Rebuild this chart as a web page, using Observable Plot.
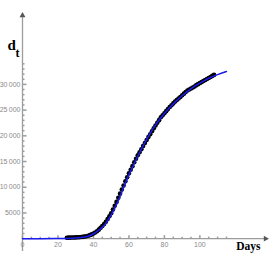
<!DOCTYPE html>
<html><head><meta charset="utf-8">
<script src="https://cdn.jsdelivr.net/npm/d3@7"></script>
<script src="https://cdn.jsdelivr.net/npm/@observablehq/plot@0.6"></script>
<style>body{margin:0;background:#fff}</style>
</head><body><div id="chart"></div>
<script>
const dataDays = [25,26,27,28,29,30,31,32,33,34,35,36,37,38,39,40,41,42,43,44,45,46,47,48,49,50,51,52,53,54,55,56,57,58,59,60,61,62,63,64,65,66,67,68,69,70,71,72,73,74,75,76,77,78,79,80,81,82,83,84,85,86,87,88,89,90,91,92,93,94,95,96,97,98,99,100,101,102,103,104,105,106,107,108];
const dataValues = [180,190,200,210,220,240,260,280,310,350,400,470,560,680,830,1000,1200,1450,1750,2100,2450,2850,3300,3800,4350,4950,5650,6400,7150,7950,8750,9550,10350,11150,11950,12700,13400,14100,14850,15550,16200,16800,17400,18000,18600,19200,19750,20300,20900,21450,22000,22550,23050,23600,24000,24400,24800,25200,25600,25950,26300,26650,26950,27250,27550,27900,28200,28500,28800,29000,29200,29400,29600,29850,30050,30250,30450,30650,30850,31050,31250,31450,31650,31850];
const fitDays = [0,10,20,25,30,33,35,37,40,43,46,50,54,58,62,66,70,74,78,82,86,90,94,98,102,106,110,115];
const fitValues = [0,2,15,40,110,200,300,450,950,1650,2550,4600,7400,10800,13900,16700,19300,21600,23500,25100,26550,27800,28900,29850,30650,31350,31900,32500];
const xMajorTicks = [0,20,40,60,80,100];
const xMinorTicks = [5,10,15,25,30,35,45,50,55,65,70,75,85,90,95,105,110,115];
const yMajorTicks = [5000,10000,15000,20000,25000,30000];
const yMinorTicks = [1000,2000,3000,4000,6000,7000,8000,9000,11000,12000,13000,14000,16000,17000,18000,19000,21000,22000,23000,24000,26000,27000,28000,29000,31000,32000,33000,34000];
const xDomain = [0, 137];
const yDomain = [-2500, 43400];
const xLabel = "Days";
const yLabel = "d";
const yLabelSub = "t";

const points = dataDays.map((d, i) => ({day: d, value: dataValues[i]}));
const fit = fitDays.map((d, i) => ({day: d, value: fitValues[i]}));

const tickUp = len => ({draw(ctx) { ctx.moveTo(0, 0); ctx.lineTo(0, -len); }});
const tickRight = len => ({draw(ctx) { ctx.moveTo(0, 0); ctx.lineTo(len, 0); }});
const fmt = v => v >= 10000 ? String(v).replace(/(\d)(\d{3})$/, "$1\u2009$2") : String(v);

const axisColor = "#9c9c9c";
const labelColor = "#8a8a8a";
const serif = "'Liberation Serif', 'Times New Roman', serif";

const chart = Plot.plot({
  width: 272, height: 273,
  marginLeft: 22, marginRight: 7, marginTop: 15, marginBottom: 22,
  x: {domain: xDomain, axis: null},
  y: {domain: yDomain, axis: null},
  style: {background: "white", fontFamily: "'Liberation Sans', Arial, sans-serif"},
  marks: [
    Plot.ruleY([0], {stroke: axisColor, strokeWidth: 1.3}),
    Plot.ruleX([0], {stroke: axisColor, strokeWidth: 1.3}),
    Plot.dot([xDomain[1]], {x: d => d, y: d => 0, symbol: "triangle", r: 2.2, rotate: 90, fill: "#555", stroke: "none"}),
    Plot.dot([yDomain[1]], {x: d => 0, y: d => d, symbol: "triangle", r: 2.2, fill: "#555", stroke: "none"}),
    Plot.dot(xMajorTicks, {x: d => d, y: d => 0, symbol: tickUp(3.5), r: 1, fill: "none", stroke: axisColor}),
    Plot.dot(xMinorTicks, {x: d => d, y: d => 0, symbol: tickUp(2), r: 1, fill: "none", stroke: axisColor}),
    Plot.dot(yMajorTicks, {x: d => 0, y: d => d, symbol: tickRight(4), r: 1, fill: "none", stroke: axisColor}),
    Plot.dot(yMinorTicks, {x: d => 0, y: d => d, symbol: tickRight(2), r: 1, fill: "none", stroke: axisColor}),
    Plot.text(xMajorTicks, {x: d => d, y: d => 0, dy: 6, text: d => String(d), fill: labelColor, fontSize: 7}),
    Plot.text(yMajorTicks, {x: d => 0, y: d => d, dx: -2, textAnchor: "end", text: fmt, fill: labelColor, fontSize: 7}),
    Plot.dot(points, {x: "day", y: "value", r: 2.3, fill: "black", stroke: "none"}),
    Plot.line(fit, {x: "day", y: "value", stroke: "#1c1cf0", strokeWidth: 1.5, curve: "monotone-x"}),
    Plot.text([yLabel], {frameAnchor: "top-left", dx: -15, dy: 24, textAnchor: "start", text: d => d, fontFamily: serif, fontWeight: "bold", fontSize: 15, fill: "black"}),
    Plot.text([yLabelSub], {frameAnchor: "top-left", dx: -7, dy: 32.5, textAnchor: "start", text: d => d, fontFamily: serif, fontWeight: "bold", fontSize: 12, fill: "black"}),
    Plot.text([xLabel], {frameAnchor: "bottom-right", dx: -5, dy: -1.5, textAnchor: "end", text: d => d, fontFamily: serif, fontWeight: "bold", fontSize: 11.5, fill: "black"})
  ]
});
document.getElementById("chart").appendChild(chart);
</script>
</body></html>
